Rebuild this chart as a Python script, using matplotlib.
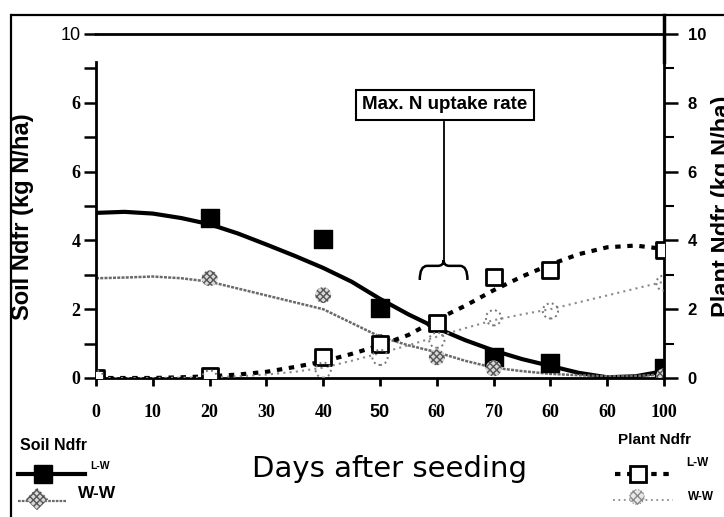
import matplotlib
matplotlib.use("Agg")
import matplotlib.pyplot as plt
from matplotlib.path import Path
from matplotlib.patches import PathPatch

# fitted curves, read every 5 days
curve_days = [0, 5, 10, 15, 20, 25, 30, 35, 40, 45, 50, 55, 60, 65, 70, 75, 80, 85, 90, 95, 100]
soil_lw_curve = [4.8, 4.83, 4.78, 4.65, 4.47, 4.2, 3.88, 3.55, 3.2, 2.8, 2.3, 1.85, 1.45, 1.1, 0.8, 0.55, 0.35, 0.15, 0.02, 0.05, 0.2]
soil_ww_curve = [2.9, 2.92, 2.95, 2.9, 2.8, 2.6, 2.4, 2.2, 2.0, 1.6, 1.2, 0.95, 0.75, 0.5, 0.3, 0.2, 0.12, 0.08, 0.05, 0.06, 0.1]
plant_lw_curve = [0, 0, 0, 0.02, 0.05, 0.1, 0.18, 0.32, 0.48, 0.7, 0.95, 1.25, 1.7, 2.1, 2.55, 2.95, 3.3, 3.6, 3.8, 3.85, 3.75]
plant_ww_curve = [0, 0, 0, 0.01, 0.02, 0.05, 0.1, 0.18, 0.3, 0.5, 0.72, 0.95, 1.2, 1.45, 1.68, 1.85, 2.0, 2.2, 2.4, 2.6, 2.8]

# measured points
soil_lw_days = [20, 40, 50, 70, 80, 100]
soil_lw = [4.65, 4.04, 2.03, 0.6, 0.43, 0.3]
soil_ww_days = [20, 40, 50, 60, 70, 100]
soil_ww = [2.9, 2.41, 1.05, 0.6, 0.28, 0.05]
plant_lw_days = [0, 20, 40, 50, 60, 70, 80, 100]
plant_lw = [0, 0.05, 0.6, 1.0, 1.6, 2.94, 3.15, 3.72]
plant_ww_days = [0, 20, 40, 50, 60, 70, 80, 100]
plant_ww = [0, 0, 0.23, 0.6, 1.1, 1.75, 1.95, 2.76]

x_ticks = [0, 10, 20, 30, 40, 50, 60, 70, 80, 90, 100]
x_labels = ['0', '10', '20', '30', '40', '50', '60', '70', '60', '60', '100']
left_ticks = [0, 2, 4, 6, 8, 10]
left_labels = ['0', '2', '4', '6', '6', '10']
right_labels = ['0', '2', '4', '6', '8', '10']

serif_b = dict(family='Liberation Serif', weight='bold', size=13)
sans_b = dict(family='Liberation Sans', weight='bold')
narrow_b = dict(family=['Liberation Sans Narrow', 'Liberation Sans'], weight='bold', size=12)

fig = plt.figure(figsize=(7.24, 5.17), dpi=100)
ax = fig.add_axes([96 / 724, 1 - 378 / 517, 568 / 724, 344 / 517])
ax2 = ax.twinx()

for a in (ax, ax2):
    a.set_xlim(0, 100)
    a.set_ylim(0, 10)
    a.patch.set_visible(False)
    for s in a.spines.values():
        s.set_linewidth(2)

# soil curves and points
ax.plot(curve_days, soil_lw_curve, color='black', lw=3, solid_capstyle='round')
ax.plot(curve_days, soil_ww_curve, color='#6a6a6a', lw=1.8, linestyle=(0, (1.2, 0.5)))
ax.scatter(soil_lw_days, soil_lw, s=170, marker='s', color='black', zorder=4)
ax.scatter(soil_ww_days, soil_ww, s=130, marker='o', facecolor='#d8d8d8', edgecolor='#555555',
           hatch='xxxxx', linewidth=0, zorder=4)

# plant curves and points
ax2.plot(curve_days, plant_lw_curve, color='black', lw=3, linestyle=(0, (1.3, 1.6)))
ax2.plot(curve_days, plant_ww_curve, color='#8a8a8a', lw=1.5, linestyle=(0, (1, 2)))
ax2.scatter(plant_lw_days, plant_lw, s=120, marker='s', facecolor='white', edgecolor='black',
            linewidth=2, zorder=5)
ax2.scatter(plant_ww_days, plant_ww, s=120, marker='o', facecolor='none', edgecolor='#777777',
            linewidth=1.4, linestyle=':', zorder=5)

# axes styling
ax.set_xticks(x_ticks)
ax.set_xticklabels(x_labels, fontdict=serif_b)
ax.xaxis.get_ticklabels()[5].set_fontfamily('Liberation Sans')
ax.tick_params(axis='x', direction='out', length=6, width=2, pad=13)
ax.set_yticks(left_ticks)
ax.set_yticklabels(left_labels, fontdict=serif_b)
ax.yaxis.get_ticklabels()[-1].set_fontfamily('Liberation Sans')
ax.yaxis.get_ticklabels()[-1].set_fontweight('normal')
ax.set_yticks([1, 3, 5, 7, 9], minor=True)
ax.tick_params(axis='y', which='both', direction='out', length=9, width=1.8, pad=2)
ax.spines['left'].set_bounds(0, 9.2)
ax.spines['right'].set_visible(False)

ax2.set_yticks(left_ticks)
ax2.set_yticklabels(right_labels, fontdict=narrow_b)
ax2.set_yticks([1, 3, 5, 7, 9], minor=True)
ax2.tick_params(axis='y', which='major', direction='out', length=10, width=1.8, pad=7)
ax2.tick_params(axis='y', which='minor', direction='out', length=7, width=1.5)
for k in ('left', 'bottom', 'top'):
    ax2.spines[k].set_visible(False)

ax.set_ylabel('Soil Ndfr (kg N/ha)', fontsize=17, **sans_b)
ax2.set_ylabel('Plant Ndfr (kg N/ha)', fontsize=17, **sans_b)
ax.yaxis.set_label_coords(-62 / 568, 0.47)
ax2.yaxis.set_label_coords(1 + 47 / 568, 0.50)

# annotation: box, stem and brace
ax.text(61.4, 7.94, 'Max. N uptake rate', ha='center', va='center', fontsize=13.5, **sans_b,
        bbox=dict(boxstyle='square,pad=0.35', facecolor='white', edgecolor='black', linewidth=1.5))
bx, bw, yt, ym, ye = 61.2, 4.2, 3.43, 3.26, 2.85
ax.plot([bx, bx], [7.45, yt], color='black', lw=1.3)
brace = Path(
    [(bx - bw, ye), (bx - bw, ym), (bx - bw + 1.3, ym), (bx - 1.0, ym), (bx, ym), (bx, yt),
     (bx, ym), (bx + 1.0, ym), (bx + bw - 1.3, ym), (bx + bw, ym), (bx + bw, ye)],
    [Path.MOVETO, Path.CURVE3, Path.CURVE3, Path.LINETO, Path.CURVE3, Path.CURVE3,
     Path.CURVE3, Path.CURVE3, Path.LINETO, Path.CURVE3, Path.CURVE3])
ax.add_patch(PathPatch(brace, facecolor='none', edgecolor='black', lw=1.8))

# overlay in pixel units for frame and legends
ov = fig.add_axes([0, 0, 1, 1])
ov.set_xlim(0, 724)
ov.set_ylim(517, 0)
ov.axis('off')
ov.plot([12, 724], [15, 15], color='black', lw=1.6)
ov.plot([11, 11], [15, 517], color='black', lw=1.6)
ov.plot([664, 664], [15, 62], color='black', lw=2.5)

ov.text(389, 469, 'Days after seeding', ha='center', va='center', fontsize=21,
        family='DejaVu Sans')

ov.text(20, 445, 'Soil Ndfr', ha='left', va='center', fontsize=11.5, **sans_b)
ov.plot([18, 85], [474, 474], color='black', lw=3)
ov.plot([43], [474], marker='s', markersize=13, color='black')
ov.text(90, 466, 'L-W', ha='left', va='center', fontsize=7.5, **sans_b)
ov.plot([18, 67], [501, 501], color='#6a6a6a', lw=1.6, linestyle=(0, (1.2, 0.5)))
ov.scatter([37], [499], s=130, marker='D', facecolor='#d8d8d8', edgecolor='#555555',
           hatch='xxxxx', linewidth=0, zorder=4)
ov.text(78, 494, 'W-W', ha='left', va='center', fontsize=12.5, **sans_b)

ov.text(618, 440, 'Plant Ndfr', ha='left', va='center', fontsize=11, **sans_b)
ov.plot([615, 673], [474, 474], color='black', lw=3, linestyle=(0, (1.3, 1.6)))
ov.plot([638], [474], marker='s', markersize=11, markerfacecolor='white',
        markeredgecolor='black', markeredgewidth=2)
ov.text(686, 463, 'L-W', ha='left', va='center', fontsize=8.5, **sans_b)
ov.plot([613, 673], [500, 500], color='#8a8a8a', lw=1.3, linestyle=(0, (1, 2)))
ov.scatter([637], [497], s=110, marker='o', facecolor='#e8e8e8', edgecolor='#888888',
           hatch='xxxx', linewidth=0.8, linestyle=':', zorder=4)
ov.text(688, 497, 'W-W', ha='left', va='center', fontsize=8.5, **sans_b)

fig.savefig('out.png', dpi=100)
